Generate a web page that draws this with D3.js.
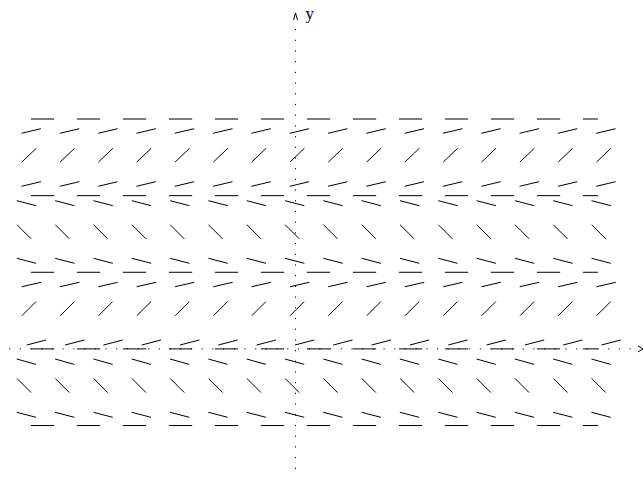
<!DOCTYPE html>
<html>
<head>
<meta charset="utf-8">
<script src="https://cdn.jsdelivr.net/npm/d3@7"></script>
<style>
html,body{margin:0;padding:0;background:#fff;}
svg{display:block;}
</style>
</head>
<body>
<svg id="chart" width="643" height="477"></svg>
<script>
// ---- data ----
// column positions of the direction-field grid (x, data units)
const colX = [-10.996, -9.425, -7.854, -6.283, -4.712, -3.142, -1.571, 0,
              1.571, 3.142, 4.712, 6.283, 7.854, 9.425, 10.996, 12.566];
// rows of the field: centre y, slope dy/dx, small x shift of the segment centre
const rowY     = [8.934, 7.942, 6.761, 5.974, 4.801, 3.612, 2.640, 1.648, 0.262, -0.525, -1.501, -2.702];
const rowSlope = [0.237, 0.953, 0.237, -0.26, -1.0, -0.26, 0.23, 1.0, 0.26, -0.28, -1.0, -0.26];
const rowShift = [0.160, 0.070, 0.160, -0.033, -0.135, -0.033, 0.168, 0.066, 0.373, -0.037, -0.135, -0.037];
// equilibrium solutions (horizontal, dashed)
const equilY = [9.425, 6.283, 3.142, 0, -3.142];
const equilX = [-10.85, 12.40];
// axis labels
const yLabel = "y";

// ---- scales ----
const k = 24.39;
const x0 = 295.5, y0 = 348.9;
const xScale = d3.scaleLinear().domain([-12, 14]).range([x0 - 12 * k, x0 + 14 * k]);
const yScale = d3.scaleLinear().domain([-4, 14]).range([y0 + 4 * k, y0 - 14 * k]);

const svg = d3.select("#chart");
svg.append("rect").attr("width", 643).attr("height", 477).attr("fill", "#fff");

// ---- axes (dotted, with arrow heads) ----
const axX = xScale(0), axY = yScale(0);
svg.append("line")
  .attr("x1", 9).attr("x2", 636).attr("y1", axY).attr("y2", axY)
  .attr("stroke", "#000").attr("stroke-width", 1)
  .attr("stroke-dasharray", "1.2 9.5");
svg.append("line")
  .attr("x1", axX).attr("x2", axX).attr("y1", 29).attr("y2", 477)
  .attr("stroke", "#000").attr("stroke-width", 1)
  .attr("stroke-dasharray", "1.2 9.5");
// arrow heads
svg.append("path")
  .attr("d", `M${638},${axY - 3} L${643},${axY} L${638},${axY + 3}`)
  .attr("fill", "none").attr("stroke", "#000").attr("stroke-width", 1);
svg.append("path")
  .attr("d", `M${axX - 2},${20} L${axX},${13} L${axX + 2},${20}`)
  .attr("fill", "none").attr("stroke", "#000").attr("stroke-width", 1);
svg.append("text")
  .attr("x", axX + 10).attr("y", 19)
  .attr("font-family", "Liberation Serif, serif")
  .attr("font-size", 17)
  .attr("fill", "#000")
  .text(yLabel);

// ---- equilibrium solutions ----
svg.append("g").selectAll("line").data(equilY).join("line")
  .attr("x1", xScale(equilX[0])).attr("x2", xScale(equilX[1]))
  .attr("y1", d => yScale(d)).attr("y2", d => yScale(d))
  .attr("stroke", "#000").attr("stroke-width", 1)
  .attr("stroke-dasharray", "23.3 22.7");

// ---- direction field segments ----
const segLen = 20;
const segs = [];
rowY.forEach((yv, r) => {
  colX.forEach(xv => {
    const cx = xScale(xv + rowShift[r]);
    const cy = yScale(yv);
    const px = xScale(1) - xScale(0);
    const py = yScale(rowSlope[r]) - yScale(0);
    const n = Math.hypot(px, py);
    const ux = px / n * segLen / 2, uy = py / n * segLen / 2;
    segs.push({x1: cx - ux, y1: cy - uy, x2: cx + ux, y2: cy + uy});
  });
});
svg.append("g").selectAll("line").data(segs).join("line")
  .attr("x1", d => d.x1).attr("y1", d => d.y1)
  .attr("x2", d => d.x2).attr("y2", d => d.y2)
  .attr("stroke", "#000").attr("stroke-width", 1);
</script>
</body>
</html>
